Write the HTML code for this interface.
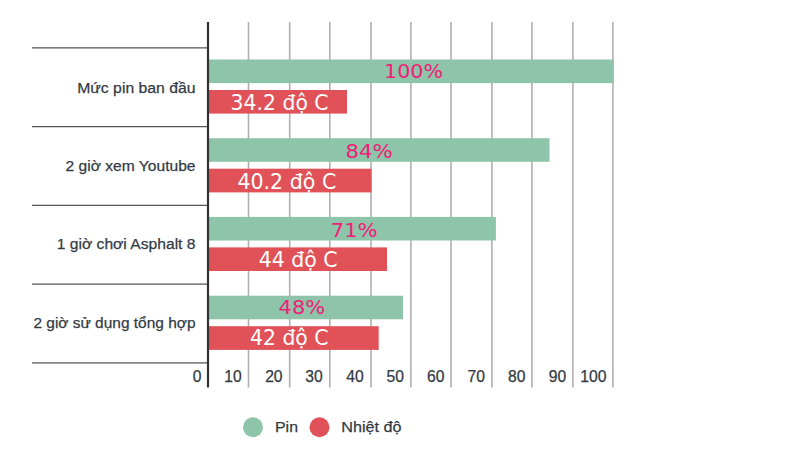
<!DOCTYPE html>
<html lang="vi">
<head>
<meta charset="utf-8">
<title>Pin &amp; Nhiệt độ</title>
<style>
  html,body{margin:0;padding:0;background:#fff;}
  body{width:800px;height:450px;overflow:hidden;position:relative;}
  svg{display:block;position:absolute;left:0;top:0;}
  .cat{font-family:"Liberation Sans",sans-serif;font-size:15.5px;fill:#333a42;stroke:#333a42;stroke-width:0.25px;}
  .ax{font-family:"Liberation Sans",sans-serif;font-size:15.7px;fill:#333a42;stroke:#333a42;stroke-width:0.25px;}
  .pct{font-family:"DejaVu Sans","Liberation Sans",sans-serif;font-size:20.2px;fill:#f02078;}
  .tmp{font-family:"DejaVu Sans","Liberation Sans",sans-serif;font-size:20.5px;fill:#ffffff;}
  .lg{font-family:"Liberation Sans",sans-serif;font-size:15.5px;fill:#333a42;stroke:#333a42;stroke-width:0.25px;}
</style>
</head>
<body>
<svg width="800" height="450" viewBox="0 0 800 450">
  <rect x="0" y="0" width="800" height="450" fill="#ffffff"/>

  <!-- grid lines -->
  <g stroke="#b0b0b0" stroke-width="1.6">
    <line x1="248.5" y1="22" x2="248.5" y2="387.5"/>
    <line x1="289.7" y1="22" x2="289.7" y2="387.5"/>
    <line x1="329.8" y1="22" x2="329.8" y2="387.5"/>
    <line x1="371" y1="22" x2="371" y2="387.5"/>
    <line x1="410.9" y1="22" x2="410.9" y2="387.5"/>
    <line x1="451" y1="22" x2="451" y2="387.5"/>
    <line x1="491.9" y1="22" x2="491.9" y2="387.5"/>
    <line x1="531.9" y1="22" x2="531.9" y2="387.5"/>
    <line x1="572.9" y1="22" x2="572.9" y2="387.5"/>
    <line x1="612.9" y1="22" x2="612.9" y2="387.5"/>
  </g>

  <!-- category separators -->
  <g stroke="#555555" stroke-width="1.35">
    <line x1="32" y1="47.9" x2="208" y2="47.9"/>
    <line x1="32" y1="126.6" x2="208" y2="126.6"/>
    <line x1="32" y1="205.35" x2="208" y2="205.35"/>
    <line x1="32" y1="284.1" x2="208" y2="284.1"/>
    <line x1="32" y1="362.8" x2="208" y2="362.8"/>
  </g>

  <!-- bars -->
  <g fill="#8ec4a9">
    <rect x="208" y="59.5" width="405.7" height="23.6"/>
    <rect x="208" y="138.2" width="341.5" height="23.6"/>
    <rect x="208" y="216.9" width="287.9" height="23.6"/>
    <rect x="208" y="295.7" width="195" height="23.6"/>
  </g>
  <g fill="#e05258">
    <rect x="208" y="90" width="139" height="23.6"/>
    <rect x="208" y="168.7" width="163.5" height="23.7"/>
    <rect x="208" y="247.4" width="179" height="23.6"/>
    <rect x="208" y="326.2" width="170.7" height="23.7"/>
  </g>

  <!-- main axis -->
  <line x1="208" y1="22" x2="208" y2="387.5" stroke="#333333" stroke-width="2.2"/>

  <!-- category labels -->
  <g class="cat" text-anchor="end">
    <text x="195.5" y="92.8" textLength="118.3" lengthAdjust="spacingAndGlyphs">Mức pin ban đầu</text>
    <text x="195.5" y="170.7" textLength="129.9" lengthAdjust="spacingAndGlyphs">2 giờ xem Youtube</text>
    <text x="195.5" y="249.4" textLength="138.7" lengthAdjust="spacingAndGlyphs">1 giờ chơi Asphalt 8</text>
    <text x="195.5" y="328.4" textLength="162.1" lengthAdjust="spacingAndGlyphs">2 giờ sử dụng tổng hợp</text>
  </g>

  <!-- axis tick labels -->
  <g class="ax" text-anchor="end">
    <text x="201.5" y="382.3">0</text>
    <text x="241.7" y="382.3">10</text>
    <text x="282.6" y="382.3">20</text>
    <text x="322.8" y="382.3">30</text>
    <text x="363.8" y="382.3">40</text>
    <text x="404" y="382.3">50</text>
    <text x="444.5" y="382.3">60</text>
    <text x="485" y="382.3">70</text>
    <text x="525.5" y="382.3">80</text>
    <text x="566.2" y="382.3">90</text>
    <text x="606.5" y="382.3">100</text>
  </g>

  <!-- bar value labels -->
  <g class="pct">
    <text x="384" y="77.5" textLength="59.1" lengthAdjust="spacingAndGlyphs">100%</text>
    <text x="345.5" y="157.6" textLength="47.2" lengthAdjust="spacingAndGlyphs">84%</text>
    <text x="330.7" y="236.8" textLength="47" lengthAdjust="spacingAndGlyphs">71%</text>
    <text x="278.6" y="314.4" textLength="46.5" lengthAdjust="spacingAndGlyphs">48%</text>
  </g>
  <g class="tmp">
    <text x="230.6" y="109.8" textLength="98" lengthAdjust="spacingAndGlyphs">34.2 độ C</text>
    <text x="237.4" y="188.8" textLength="98.9" lengthAdjust="spacingAndGlyphs">40.2 độ C</text>
    <text x="258.7" y="266.7" textLength="78.9" lengthAdjust="spacingAndGlyphs">44 độ C</text>
    <text x="250" y="345" textLength="78.5" lengthAdjust="spacingAndGlyphs">42 độ C</text>
  </g>

  <!-- legend -->
  <circle cx="253" cy="427.3" r="10" fill="#8ec4a9"/>
  <text class="lg" x="275" y="432.2" textLength="23" lengthAdjust="spacingAndGlyphs">Pin</text>
  <circle cx="319.5" cy="427.3" r="10" fill="#e05258"/>
  <text class="lg" x="341.2" y="432.2" textLength="60.3" lengthAdjust="spacingAndGlyphs">Nhiệt độ</text>
</svg>
</body>
</html>
